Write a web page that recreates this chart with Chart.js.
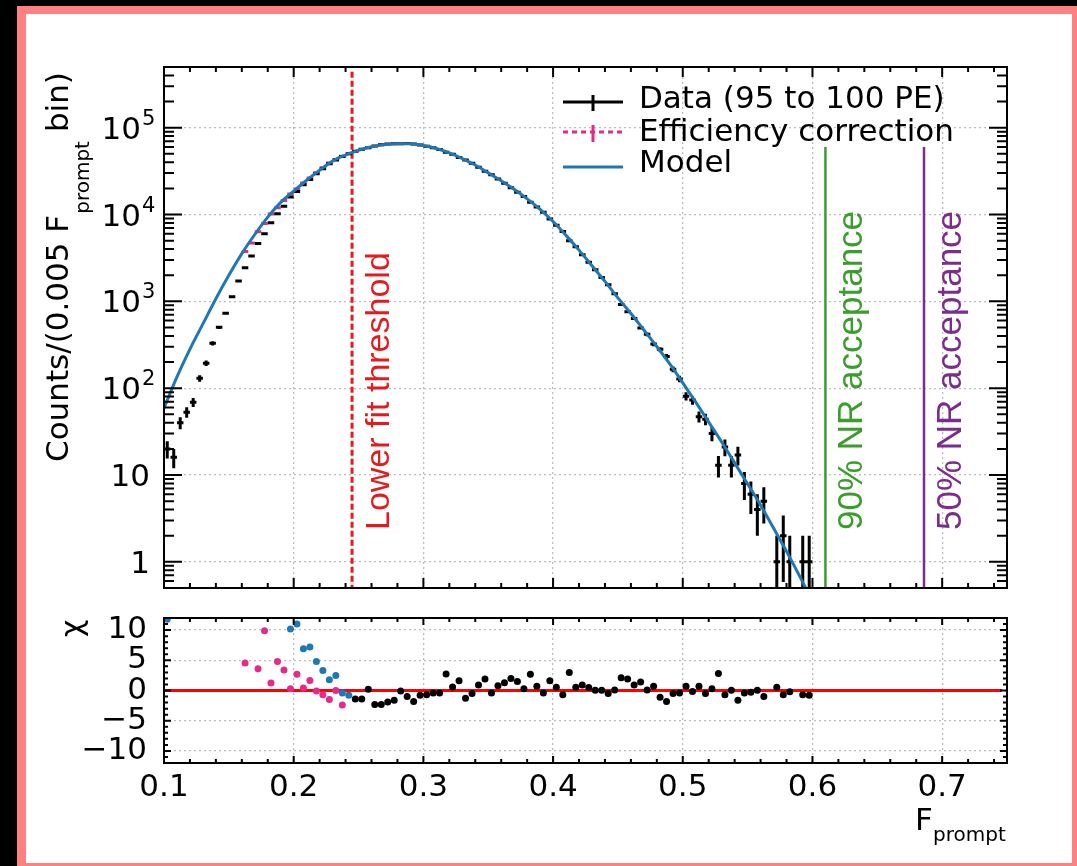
<!DOCTYPE html>
<html>
<head>
<meta charset="utf-8">
<script src="https://cdn.jsdelivr.net/npm/chart.js@4.4.1/dist/chart.umd.min.js"></script>
<style>
  body { margin: 0; background: #000; width: 1077px; height: 866px; overflow: hidden; position: relative; }
  #frame { position: absolute; left: 17px; top: 6px; width: 1060px; height: 860px; background: #ff8080; }
  #paper { position: absolute; left: 26px; top: 14px; width: 1046px; height: 849px; background: #fff; }
  canvas { position: absolute; left: 0; top: 0; }
</style>
</head>
<body>
<div id="frame"></div>
<div id="paper"></div>
<canvas id="main" width="1077" height="866"></canvas>
<canvas id="resid" width="1077" height="866"></canvas>
<script>
// ---- data ----
const dataF = [0.1025, 0.1075, 0.1125, 0.1175, 0.1225, 0.1275, 0.1325, 0.1375, 0.1425, 0.1475,
  0.1525, 0.1575, 0.1625, 0.1675, 0.1725, 0.1775, 0.1825, 0.1875, 0.1925, 0.1975,
  0.2025, 0.2075, 0.2125, 0.2175, 0.2225, 0.2275, 0.2325, 0.2375, 0.2425, 0.2475,
  0.2525, 0.2575, 0.2625, 0.2675, 0.2725, 0.2775, 0.2825, 0.2875, 0.2925, 0.2975,
  0.3025, 0.3075, 0.3125, 0.3175, 0.3225, 0.3275, 0.3325, 0.3375, 0.3425, 0.3475,
  0.3525, 0.3575, 0.3625, 0.3675, 0.3725, 0.3775, 0.3825, 0.3875, 0.3925, 0.3975,
  0.4025, 0.4075, 0.4125, 0.4175, 0.4225, 0.4275, 0.4325, 0.4375, 0.4425, 0.4475,
  0.4525, 0.4575, 0.4625, 0.4675, 0.4725, 0.4775, 0.4825, 0.4875, 0.4925, 0.4975,
  0.5025, 0.5075, 0.5125, 0.5175, 0.5225, 0.5275, 0.5325, 0.5375, 0.5425, 0.5475,
  0.5525, 0.5575, 0.5625, 0.5725, 0.5775, 0.5825, 0.5925, 0.5975];
const dataCounts = [20, 16, 40, 53, 69, 130, 194, 329, 502, 728,
  1133, 1714, 2440, 3320, 4650, 6000, 8030, 10200, 12470, 15940,
  18450, 22060, 25380, 29430, 33750, 38470, 42390, 46590, 50010, 53530,
  56560, 58830, 61660, 63530, 64750, 65420, 65490, 65650, 65030, 63300,
  61260, 58850, 56000, 52150, 49300, 45470, 42540, 38920, 35110, 31470,
  28750, 25720, 22970, 20360, 18100, 16090, 13810, 12220, 10630, 8860,
  7540, 6370, 5000, 4250, 3450, 2820, 2315, 1880, 1550, 1220,
  923, 760, 635, 495, 417, 322, 280, 232, 165, 128,
  81, 73, 47, 44, 30, 13, 21, 13, 17, 8,
  6, 4, 5, 1, 2, 1, 1, 1];

const effF = [0.1625, 0.1675, 0.1725, 0.1775, 0.1825, 0.1875, 0.1925, 0.1975,
  0.2025, 0.2075, 0.2125, 0.2175, 0.2225, 0.2275, 0.2325, 0.2375];
const effCounts = [3740, 4700, 6320, 7900, 10160, 11980, 14470, 17240,
  19620, 23050, 26280, 30290, 34490, 39120, 42910, 47020];

const modelF = [0.10, 0.11, 0.12, 0.13, 0.14, 0.15, 0.16, 0.17, 0.18, 0.19,
  0.20, 0.21, 0.22, 0.23, 0.24, 0.25, 0.26, 0.27, 0.28, 0.29,
  0.30, 0.31, 0.32, 0.33, 0.34, 0.35, 0.36, 0.37, 0.38, 0.39,
  0.40, 0.41, 0.42, 0.43, 0.44, 0.45, 0.46, 0.47, 0.48, 0.49,
  0.50, 0.51, 0.52, 0.53, 0.54, 0.55, 0.56, 0.57, 0.58, 0.59, 0.60];
const modelCounts = [59, 135, 282, 550, 1072, 1995, 3548, 5888, 9333, 13800,
  18620, 24830, 32360, 41210, 48420, 54950, 60260, 63830, 65460, 65310,
  62370, 57540, 51290, 44160, 37150, 30200, 24550, 19500, 15140, 11480,
  8318, 5754, 3890, 2570, 1698, 1096, 724, 468, 302, 190,
  115, 69, 40.7, 24, 13.8, 7.9, 4.5, 2.45, 1.32, 0.69, 0.35];

// residuals (model - data) / sigma
const chiF = [0.2475, 0.2525, 0.2575, 0.2625, 0.2675, 0.2725, 0.2775, 0.2825, 0.2875, 0.2925,
  0.2975, 0.3025, 0.3075, 0.3125, 0.3175, 0.3225, 0.3275, 0.3325, 0.3375, 0.3425,
  0.3475, 0.3525, 0.3575, 0.3625, 0.3675, 0.3725, 0.3775, 0.3825, 0.3875, 0.3925,
  0.3975, 0.4025, 0.4075, 0.4125, 0.4175, 0.4225, 0.4275, 0.4325, 0.4375, 0.4425,
  0.4475, 0.4525, 0.4575, 0.4625, 0.4675, 0.4725, 0.4775, 0.4825, 0.4875, 0.4925,
  0.4975, 0.5025, 0.5075, 0.5125, 0.5175, 0.5225, 0.5275, 0.5325, 0.5375, 0.5425,
  0.5475, 0.5525, 0.5575, 0.5625, 0.5725, 0.5775, 0.5825, 0.5925, 0.5975];
const chiData = [-1.4, -1.4, 0.2, -2.3, -2.3, -1.9, -1.6, -0.1, -1.0, -1.8,
  -0.8, -0.7, -0.4, -0.4, 2.75, 0.6, 1.6, -1.3, -0.5, 0.9,
  1.9, -0.4, 0.8, 1.3, 2.0, 1.5, 0.3, 2.7, 0.7, -0.4,
  1.6, 0.55, -0.7, 3.0, 0.55, 0.9, 0.5, 0.05, 0.05, -0.5,
  0.1, 2.1, 1.9, 0.9, 1.4, 0.1, 0.7, -1.1, -1.8, -0.5,
  -0.4, 0.7, -0.15, 0.7, -0.5, 0.3, 2.8, -0.7, 0.05, -1.6,
  -0.4, -0.3, 0.05, -1.0, 0.55, -0.7, -0.2, -0.7, -0.8];
const chiBelowF = [0.1025, 0.1975, 0.2025, 0.2075, 0.2125, 0.2175, 0.2225, 0.2275, 0.2325, 0.2375, 0.2425];
const chiBelow = [11.8, 10.2, 11.0, 6.9, 7.2, 4.8, 3.3, 1.8, 2.5, -0.4, -0.8];
const chiEffF = [0.1625, 0.1725, 0.1775, 0.1825, 0.1875, 0.1925, 0.1975, 0.2025,
  0.2075, 0.2125, 0.2175, 0.2225, 0.2275, 0.2325, 0.2375];
const chiEff = [4.56, 3.6, 9.9, 1.26, 4.8, 3.4, 0.3, 2.7, 0.4, 1.65, -0.1, -0.7, -1.5, 0, -2.4];
const zeroLineF = [0.1, 0.746];

const xTicks = [0.1, 0.2, 0.3, 0.4, 0.5, 0.6, 0.7];
const yDecades = [1, 10, 100, 1000, 10000, 100000];
const chiTicks = [-10, -5, 0, 5, 10];

const fitThreshold = 0.245;
const nr90 = 0.61;
const nr50 = 0.686;

const BLUE = '#1f77b4';
const PINK = '#e7298a';
const RED = '#e41a1c';
const GREEN = '#3a9d2c';
const PURPLE = '#7b2d8b';
const GRID = '#bdbdbd';
const HFONT = '"DejaVu Sans", sans-serif';
const VFONT = '"Liberation Sans", Arial, sans-serif';

const pts = (xs, ys) => xs.map((x, i) => ({ x: x, y: ys[i] }));

// minor tick positions
const xMinor = [];
for (let k = 6; k <= 37; k++) if (k % 5) xMinor.push(k / 50);
const yMinorLog = [];
for (let d = -1; d <= 5; d++) for (let k = 2; k <= 9; k++) {
  const v = k * Math.pow(10, d);
  if (v >= 0.5 && v <= 5e5) yMinorLog.push(v);
}
const chiMinor = [];
for (let k = -12; k <= 12; k++) if (k % 5) chiMinor.push(k);

function frameAndTicks(chart, o) {
  const { ctx, chartArea: a } = chart;
  const xs = chart.scales.x, ys = chart.scales.y;
  ctx.save();
  ctx.strokeStyle = '#000';
  ctx.lineWidth = 2;
  ctx.beginPath();
  const xt = (v, len) => {
    const p = xs.getPixelForValue(v);
    ctx.moveTo(p, a.bottom); ctx.lineTo(p, a.bottom - len);
    ctx.moveTo(p, a.top); ctx.lineTo(p, a.top + len);
  };
  const yt = (v, len) => {
    const p = ys.getPixelForValue(v);
    ctx.moveTo(a.left, p); ctx.lineTo(a.left + len, p);
    ctx.moveTo(a.right, p); ctx.lineTo(a.right - len, p);
  };
  xTicks.forEach(v => xt(v, o.xMaj));
  xMinor.forEach(v => xt(v, o.xMin));
  o.yMajor.forEach(v => yt(v, o.yMaj));
  o.yMinor.forEach(v => yt(v, o.yMin));
  ctx.stroke();
  ctx.strokeRect(a.left, a.top, a.right - a.left, a.bottom - a.top);
  ctx.restore();
}

function vText(ctx, str, x, y, color, font) {
  ctx.save();
  ctx.translate(x, y);
  ctx.rotate(-Math.PI / 2);
  ctx.fillStyle = color;
  ctx.font = font;
  ctx.textAlign = 'left';
  ctx.textBaseline = 'alphabetic';
  ctx.fillText(str, 0, 0);
  ctx.restore();
}

function errorCross(ctx, xs, ys, x, n, color) {
  const p = xs.getPixelForValue(x);
  const half = (xs.getPixelForValue(x + 0.0025) - xs.getPixelForValue(x - 0.0025)) / 2;
  const s = Math.sqrt(n);
  const yMid = ys.getPixelForValue(n);
  const yHi = ys.getPixelForValue(n + s);
  const yLo = n - s > ys.min ? ys.getPixelForValue(n - s) : ys.bottom + 5;
  ctx.strokeStyle = color;
  ctx.beginPath();
  ctx.moveTo(p - half, yMid); ctx.lineTo(p + half, yMid);
  ctx.moveTo(p, yHi); ctx.lineTo(p, yLo);
  ctx.stroke();
}

const mainDecor = {
  id: 'mainDecor',
  beforeDatasetsDraw(chart) {
    const { ctx, chartArea: a } = chart;
    const xs = chart.scales.x, ys = chart.scales.y;
    ctx.save();
    // lower fit threshold
    const xt = xs.getPixelForValue(fitThreshold);
    ctx.strokeStyle = RED; ctx.lineWidth = 3; ctx.setLineDash([6, 3]);
    ctx.beginPath(); ctx.moveTo(xt, ys.getPixelForValue(4.4e5)); ctx.lineTo(xt, a.bottom); ctx.stroke();
    ctx.setLineDash([]);
    ctx.lineWidth = 2.5;
    ctx.strokeStyle = GREEN;
    const xg = xs.getPixelForValue(nr90);
    ctx.beginPath(); ctx.moveTo(xg, ys.getPixelForValue(6e4)); ctx.lineTo(xg, a.bottom); ctx.stroke();
    ctx.strokeStyle = PURPLE;
    const xp = xs.getPixelForValue(nr50);
    ctx.beginPath(); ctx.moveTo(xp, ys.getPixelForValue(6e4)); ctx.lineTo(xp, a.bottom); ctx.stroke();
    ctx.restore();
    vText(ctx, 'Lower fit threshold', xt + 37, 530, RED, '34px ' + VFONT);
    vText(ctx, '90% NR acceptance', xg + 37, 530, GREEN, '35px ' + VFONT);
    vText(ctx, '50% NR acceptance', xp + 37, 530, PURPLE, '35px ' + VFONT);
  },
  afterDatasetDraw(chart, args) {
    const ds = chart.data.datasets[args.index];
    if (!ds.errorColor) return;
    const { ctx, chartArea: a } = chart;
    ctx.save();
    ctx.beginPath(); ctx.rect(a.left, a.top, a.right - a.left, a.bottom - a.top); ctx.clip();
    ctx.lineWidth = 3;
    ds.data.forEach(d => errorCross(ctx, chart.scales.x, chart.scales.y, d.x, d.y, ds.errorColor));
    ctx.restore();
  },
  afterDraw(chart) {
    const { ctx } = chart;
    const ys = chart.scales.y;
    frameAndTicks(chart, { xMaj: 10, xMin: 5, yMajor: yDecades, yMinor: yMinorLog, yMaj: 18, yMin: 10 });
    // y tick labels 1, 10, 10^2 ... 10^5
    ctx.save();
    ctx.fillStyle = '#000';
    ctx.textBaseline = 'alphabetic';
    yDecades.forEach(v => {
      const p = ys.getPixelForValue(v);
      const e = Math.round(Math.log10(v));
      ctx.font = '31px ' + HFONT;
      if (e <= 1) {
        ctx.textAlign = 'right';
        ctx.fillText(String(v), 150, p + 11);
      } else {
        ctx.textAlign = 'right';
        ctx.fillText('10', 141, p + 11);
        ctx.textAlign = 'left';
        ctx.font = '21px ' + HFONT;
        ctx.fillText(String(e), 142, p - 3);
      }
    });
    // y title
    ctx.translate(68, 462);
    ctx.rotate(-Math.PI / 2);
    ctx.textAlign = 'left';
    ctx.font = '31px ' + HFONT;
    const t1 = 'Counts/(0.005 F';
    ctx.fillText(t1, 0, 0);
    let w = ctx.measureText(t1).width;
    ctx.font = '20px ' + HFONT;
    ctx.fillText('prompt', w + 1, 21);
    w += ctx.measureText('prompt').width + 10;
    ctx.font = '31px ' + HFONT;
    ctx.fillText('bin)', w, 0);
    ctx.restore();
    // legend
    ctx.save();
    ctx.lineWidth = 3;
    ctx.strokeStyle = '#000';
    ctx.beginPath(); ctx.moveTo(563, 102); ctx.lineTo(623, 102); ctx.moveTo(593, 95); ctx.lineTo(593, 111); ctx.stroke();
    ctx.strokeStyle = PINK;
    ctx.setLineDash([5, 4]);
    ctx.beginPath(); ctx.moveTo(563, 132); ctx.lineTo(623, 132); ctx.stroke();
    ctx.setLineDash([]);
    ctx.beginPath(); ctx.moveTo(593, 125); ctx.lineTo(593, 142); ctx.stroke();
    ctx.strokeStyle = BLUE;
    ctx.beginPath(); ctx.moveTo(563, 167); ctx.lineTo(623, 167); ctx.stroke();
    ctx.fillStyle = '#000';
    ctx.font = '31px ' + HFONT;
    ctx.textAlign = 'left';
    ctx.textBaseline = 'alphabetic';
    ctx.fillText('Data (95 to 100 PE)', 639, 108);
    ctx.fillText('Efficiency correction', 639, 141);
    ctx.fillText('Model', 639, 172);
    ctx.restore();
  }
};

const residDecor = {
  id: 'residDecor',
  afterDraw(chart) {
    const { ctx } = chart;
    frameAndTicks(chart, { xMaj: 7, xMin: 4, yMajor: chiTicks, yMinor: chiMinor, yMaj: 7, yMin: 4 });
    ctx.save();
    ctx.fillStyle = '#000';
    vText(ctx, 'χ', 82, 637, '#000', '30px ' + HFONT);
    ctx.font = '31px ' + HFONT;
    ctx.textAlign = 'left';
    ctx.textBaseline = 'alphabetic';
    ctx.fillText('F', 915, 830);
    ctx.font = '20px ' + HFONT;
    ctx.fillText('prompt', 933, 841);
    ctx.restore();
  }
};

const gridOpts = { color: GRID, lineWidth: 1.3, drawTicks: false };
const borderOpts = { display: false, dash: [2, 3] };

new Chart(document.getElementById('main'), {
  type: 'scatter',
  data: {
    datasets: [
      { label: 'Model', type: 'line', data: pts(modelF, modelCounts), borderColor: BLUE, borderWidth: 3,
        pointRadius: 0, cubicInterpolationMode: 'monotone', fill: false },
      { label: 'Data (95 to 100 PE)', data: pts(dataF, dataCounts), pointRadius: 0, errorColor: '#000' },
      { label: 'Efficiency correction', data: pts(effF, effCounts), pointRadius: 0, errorColor: PINK }
    ]
  },
  options: {
    responsive: false,
    animation: false,
    layout: { padding: { left: 64, right: 70, top: 67, bottom: 278 } },
    plugins: { legend: { display: false }, tooltip: { enabled: false } },
    scales: {
      x: {
        type: 'linear', min: 0.1, max: 0.75,
        afterBuildTicks: s => { s.ticks = xTicks.map(v => ({ value: v })); },
        afterFit: s => { s.height = 0; },
        ticks: { display: false },
        grid: gridOpts, border: borderOpts
      },
      y: {
        type: 'logarithmic', min: 0.5, max: 5e5,
        afterBuildTicks: s => { s.ticks = yDecades.map(v => ({ value: v })); },
        afterFit: s => { s.width = 100; },
        ticks: { display: false },
        grid: gridOpts, border: borderOpts
      }
    }
  },
  plugins: [mainDecor]
});

new Chart(document.getElementById('resid'), {
  type: 'scatter',
  data: {
    datasets: [
      { label: 'data', data: pts(chiF, chiData), pointRadius: 3.5, pointBackgroundColor: '#000', pointBorderWidth: 0 },
      { label: 'below threshold', data: pts(chiBelowF, chiBelow), pointRadius: 3.5, pointBackgroundColor: BLUE, pointBorderWidth: 0 },
      { label: 'efficiency', data: pts(chiEffF, chiEff), pointRadius: 3.5, pointBackgroundColor: PINK, pointBorderWidth: 0 },
      { label: 'zero', type: 'line', data: pts(zeroLineF, [0, 0]), borderColor: '#ff0000', borderWidth: 3, pointRadius: 0 }
    ]
  },
  options: {
    responsive: false,
    animation: false,
    layout: { padding: { left: 64, right: 70, top: 618, bottom: 33 } },
    plugins: { legend: { display: false }, tooltip: { enabled: false } },
    scales: {
      x: {
        type: 'linear', min: 0.1, max: 0.75,
        afterBuildTicks: s => { s.ticks = xTicks.map(v => ({ value: v })); },
        afterFit: s => { s.height = 70; },
        ticks: { color: '#000', font: { family: HFONT, size: 31 }, padding: 6, maxRotation: 0, autoSkip: false,
          callback: v => v.toFixed(1) },
        grid: gridOpts, border: borderOpts
      },
      y: {
        type: 'linear', min: -12, max: 12,
        afterBuildTicks: s => { s.ticks = chiTicks.map(v => ({ value: v })); },
        afterFit: s => { s.width = 100; },
        ticks: { color: '#000', font: { family: HFONT, size: 31 }, padding: 17, autoSkip: false,
          callback: v => (v < 0 ? '\u2212' + Math.abs(v) : String(v)) },
        grid: gridOpts, border: borderOpts
      }
    }
  },
  plugins: [residDecor]
});
</script>
</body>
</html>
